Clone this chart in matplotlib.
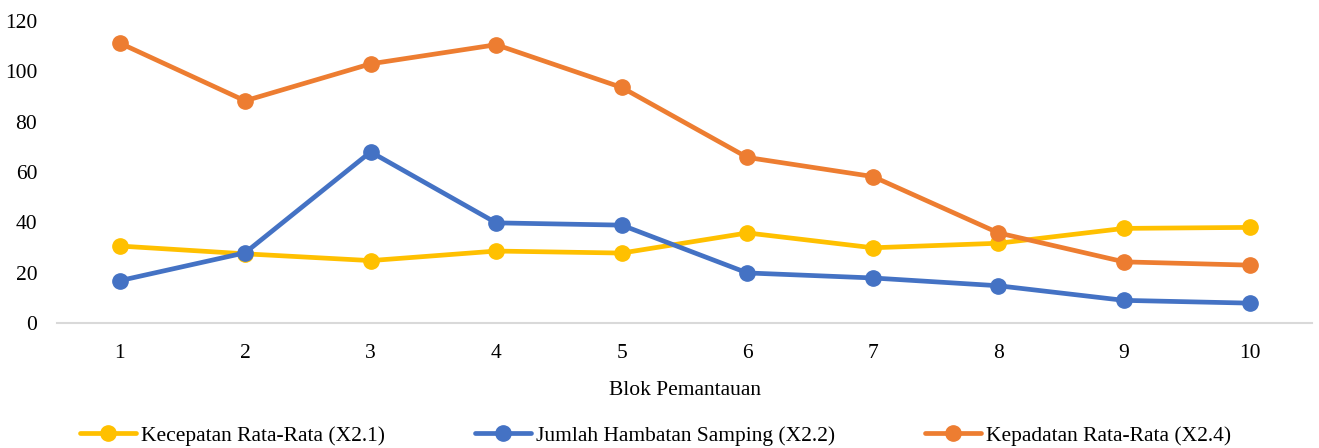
import matplotlib.pyplot as plt
import numpy as np

plt.rcParams['font.family'] = ['Liberation Serif', 'DejaVu Serif']

# data
blok = [1, 2, 3, 4, 5, 6, 7, 8, 9, 10]
kecepatan = [30.6, 27.5, 24.8, 28.6, 27.8, 35.8, 29.9, 31.7, 37.6, 38.0]
hambatan = [16.8, 27.9, 68.0, 39.8, 38.9, 19.9, 17.9, 14.8, 9.0, 7.9]
kepadatan = [111.3, 88.3, 103.0, 110.6, 93.6, 65.8, 58.2, 35.8, 24.3, 23.0]
labels = ['Kecepatan Rata-Rata (X2.1)', 'Jumlah Hambatan Samping (X2.2)',
          'Kepadatan Rata-Rata (X2.4)']
colors = ['#FFC000', '#4472C4', '#ED7D31']

fig = plt.figure(figsize=(13.19, 4.48), dpi=100)
ax = fig.add_axes([0.043, 0.279, 0.952, 0.674])

x = np.arange(len(blok))
for y, lab, c in zip([kecepatan, hambatan, kepadatan], labels, colors):
    ax.plot(x, y, color=c, lw=3.4, marker='o', ms=11, label=lab,
            solid_capstyle='round', zorder=3)

ax.set_xlim(-0.5, len(blok) - 0.5)
ax.set_ylim(0, 120)
ax.set_yticks(range(0, 121, 20))
ax.set_xticks(x)
ax.set_xticklabels([str(b) for b in blok])
ax.tick_params(axis='both', length=0, labelsize=15.5, colors='#000000')
ax.tick_params(axis='x', pad=15)
ax.tick_params(axis='y', pad=14)
for s in ['top', 'right', 'left']:
    ax.spines[s].set_visible(False)
ax.spines['bottom'].set_color('#D9D9D9')
ax.spines['bottom'].set_linewidth(1.5)

ax.set_xlabel('Blok Pemantauan', fontsize=15.5, labelpad=13)

fig.legend(loc='center', bbox_to_anchor=(0.497, 0.027), ncol=3, frameon=False,
           fontsize=15.5, handlelength=2.6, handletextpad=0.25,
           columnspacing=4.15)

fig.savefig('out.png', dpi=100)
